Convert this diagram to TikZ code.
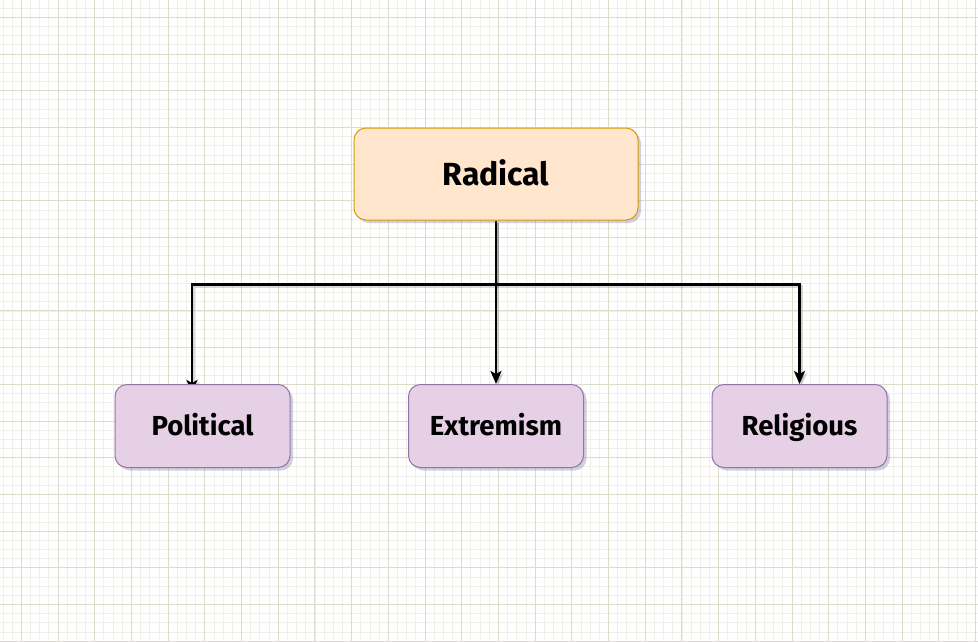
\documentclass[tikz,border=0pt]{standalone}
\usepackage{fontspec}
\setmainfont{Fira Sans}
\usetikzlibrary{arrows.meta,shadows}
\pgfdeclarelayer{bg}
\pgfdeclarelayer{edges}
\pgfsetlayers{bg,edges,main}
\definecolor{minorgrid}{RGB}{240,240,232}
\definecolor{majorgrid}{RGB}{220,220,205}
\definecolor{topfill}{HTML}{FFE6CC}
\definecolor{topdraw}{HTML}{D79B00}
\definecolor{childfill}{HTML}{E6D0E6}
\definecolor{childdraw}{HTML}{9673A6}
\tikzset{
  boxshadow/.style={drop shadow={shadow xshift=3pt,shadow yshift=-3pt,opacity=0.3,fill=gray!80!blue}},
  topbox/.style={draw=topdraw,fill=topfill,line width=1pt,rounded corners=12pt,
    minimum width=284pt,minimum height=92pt,boxshadow,text height=22pt,text depth=0pt,
    font=\fontsize{32}{36}\selectfont\bfseries},
  childbox/.style={draw=childdraw,fill=childfill,line width=1pt,rounded corners=12pt,
    minimum width=175pt,minimum height=83pt,boxshadow,text height=19pt,text depth=0pt,
    font=\fontsize{27.5}{32}\selectfont\bfseries},
  conn/.style={line width=2.5pt,black,
    -{Stealth[length=13pt,width=11pt,inset=3pt]},
    preaction={draw=gray,opacity=0.3,line width=2.5pt,transform canvas={shift={(2pt,-2pt)}}}},
}
\begin{document}
\begin{tikzpicture}[x=1pt,y=-1pt]
\useasboundingbox (0,0) rectangle (978,641);
\begin{pgfonlayer}{bg}
\fill[white] (0,0) rectangle (978,641);
\foreach \k in {-3,...,104} {\draw[minorgrid,line width=0.8pt] ({21.3+\k*9.175},0) -- ({21.3+\k*9.175},641);}
\foreach \k in {-2,...,68} {\draw[minorgrid,line width=0.8pt] (0,{17.3+\k*9.175}) -- (978,{17.3+\k*9.175});}
\foreach \k in {0,...,26} {\draw[majorgrid,line width=1pt] ({21.3+\k*36.7},0) -- ({21.3+\k*36.7},641);}
\foreach \k in {0,...,17} {\draw[majorgrid,line width=1pt] (0,{17.3+\k*36.7}) -- (978,{17.3+\k*36.7});}
\end{pgfonlayer}

\node[topbox] (rad) at (496,174) {Radical};
\node[childbox] (pol) at (202.5,426) {Political};
\node[childbox] (ext) at (496,426) {Extremism};
\node[childbox] (rel) at (799.5,426) {Religious};

\coordinate (polin) at (192,393);
\begin{pgfonlayer}{edges}
\draw[conn] (rad.south) -- ++(0,64) -| (polin);
\draw[conn] (rad.south) -- (ext.north);
\draw[conn] (rad.south) -- ++(0,64) -| (rel.north);
\end{pgfonlayer}
\end{tikzpicture}
\end{document}
